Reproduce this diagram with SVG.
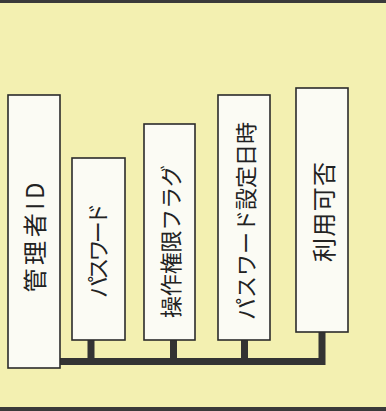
<svg xmlns="http://www.w3.org/2000/svg" width="386" height="411" viewBox="0 0 386 411">
<style>
.box{fill:#fbfbf4;stroke:#2b2b2b;stroke-width:1.6}
.lbl{font-family:"Noto Sans CJK JP","Noto Sans",sans-serif;font-size:22px;fill:#222;text-anchor:middle;dominant-baseline:central}
.big{font-size:24px}
.bus{fill:none;stroke:#333;stroke-width:7}
</style>
<rect x="0" y="0" width="386" height="411" fill="#f3f0b1"/>
<rect x="0" y="0" width="386" height="3" fill="#3a3a3a"/>
<rect x="0" y="407" width="386" height="4" fill="#3a3a3a"/>
<g id="connectors">
<path class="bus" d="M60 361.5 H322 M91 340 V361.5 M173.5 340 V361.5 M244.5 340 V361.5 M322 332 V365"/>
</g>
<g id="n1"><rect class="box" x="8" y="95" width="52" height="273"/><text class="lbl big" transform="translate(33,237.5) rotate(-90)" textLength="110" lengthAdjust="spacing">管理者ID</text></g>
<g id="n2"><rect class="box" x="72" y="158" width="53" height="182"/><text class="lbl" transform="translate(96,250.5) rotate(-90)" textLength="95" lengthAdjust="spacing">パスワード</text></g>
<g id="n3"><rect class="box" x="144" y="124" width="51" height="216"/><text class="lbl" transform="translate(168.5,241.5) rotate(-90)" textLength="153" lengthAdjust="spacing">操作権限フラグ</text></g>
<g id="n4"><rect class="box" x="218" y="95" width="52" height="245"/><text class="lbl" transform="translate(243.5,221) rotate(-90)" textLength="198" lengthAdjust="spacing">パスワード設定日時</text></g>
<g id="n5"><rect class="box" x="296" y="88" width="52" height="244"/><text class="lbl big" transform="translate(322,212) rotate(-90)" textLength="100" lengthAdjust="spacing">利用可否</text></g>
</svg>
